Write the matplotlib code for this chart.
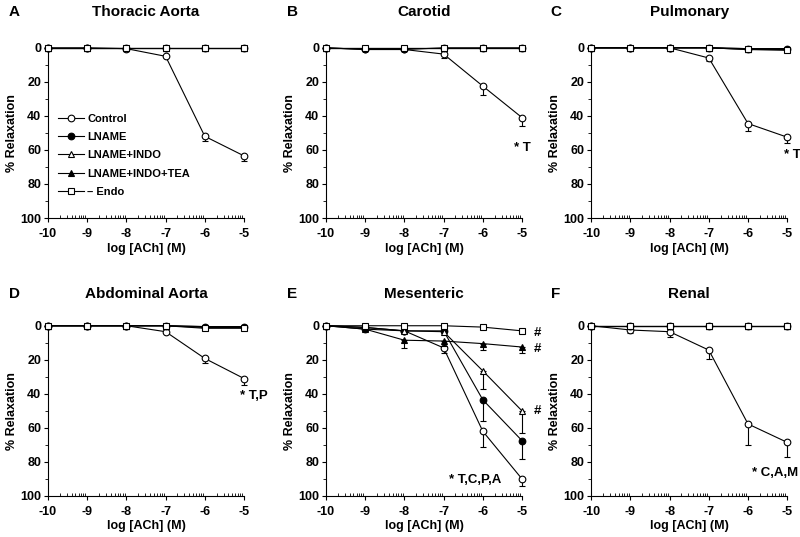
import numpy as np
import matplotlib.pyplot as plt

plt.rcParams['font.family'] = ['Liberation Sans', 'DejaVu Sans']
plt.rcParams['font.weight'] = 'bold'

x_log = [-10, -9, -8, -7, -6, -5]
series_names = ['Control', 'LNAME', 'LNAME+INDO', 'LNAME+INDO+TEA', '\u2013 Endo']
zeros = [0, 0, 0, 0, 0, 0]

# Thoracic Aorta
thoracic_control = [0, 0, 0.5, 5, 52, 63.5]
thoracic_control_err = [0, 0, 0, 0, 3, 3]

# Carotid
carotid_control = [0, 1, 1, 3.7, 22.5, 41]
carotid_control_err = [0, 0, 0, 2.5, 5, 5]
carotid_lname = [0, 1, 1, 0, 0, 0]

# Pulmonary
pulmonary_control = [0, 0, 0, 6, 44.5, 52.5]
pulmonary_control_err = [0, 0, 0, 1.5, 4.5, 3.5]
pulmonary_lname = [0, 0, 0, 0, 0.5, 0.5]
pulmonary_indo = [0, 0, 0, 0, 1, 1]
pulmonary_tea = [0, 0, 0, 0, 0.5, 0.5]
pulmonary_endo = [0, 0, 0, 0, 1, 1.5]

# Abdominal Aorta
abdominal_control = [0, 0, 0, 3.5, 19.2, 31]
abdominal_control_err = [0, 0, 0, 0, 2.8, 4]
abdominal_lname = [0, 0, 0, 0, 0.5, 0.5]
abdominal_indo = [0, 0, 0, 0, 1, 1]
abdominal_tea = [0, 0, 0, 0, 0.5, 0.5]
abdominal_endo = [0, 0, 0, 0, 1.5, 1.5]

# Mesenteric
mesenteric_control = [0, 1, 3, 13, 62, 90]
mesenteric_control_err = [0, 0, 0, 3, 9, 4]
mesenteric_lname = [0, 2, 3, 3, 43.5, 67.5]
mesenteric_lname_err = [0, 0, 0, 0, 12.5, 10.5]
mesenteric_indo = [0, 1, 3, 3.5, 26.5, 50]
mesenteric_indo_err = [0, 0, 0, 0, 10.5, 13]
mesenteric_tea = [0, 2, 8.5, 9, 10.5, 12.5]
mesenteric_tea_err = [0, 0, 4.5, 3, 3.5, 3.5]
mesenteric_endo = [0, 0, 0, 0, 0.8, 3]

# Renal
renal_control = [0, 2.5, 3.5, 14.3, 57.7, 68.5]
renal_control_err = [0, 1.5, 3.3, 5.5, 12.3, 8.5]

panels = [
    ('A', 'Thoracic Aorta',
     [thoracic_control, zeros, zeros, zeros, zeros],
     [thoracic_control_err, zeros, zeros, zeros, zeros]),
    ('B', 'Carotid',
     [carotid_control, carotid_lname, zeros, zeros, zeros],
     [carotid_control_err, zeros, zeros, zeros, zeros]),
    ('C', 'Pulmonary',
     [pulmonary_control, pulmonary_lname, pulmonary_indo, pulmonary_tea, pulmonary_endo],
     [pulmonary_control_err, zeros, zeros, zeros, zeros]),
    ('D', 'Abdominal Aorta',
     [abdominal_control, abdominal_lname, abdominal_indo, abdominal_tea, abdominal_endo],
     [abdominal_control_err, zeros, zeros, zeros, zeros]),
    ('E', 'Mesenteric',
     [mesenteric_control, mesenteric_lname, mesenteric_indo, mesenteric_tea, mesenteric_endo],
     [mesenteric_control_err, mesenteric_lname_err, mesenteric_indo_err, mesenteric_tea_err, zeros]),
    ('F', 'Renal',
     [renal_control, zeros, zeros, zeros, zeros],
     [renal_control_err, zeros, zeros, zeros, zeros]),
]

markers = ['o', 'o', '^', '^', 's']
faces = ['white', 'black', 'white', 'black', 'white']

fig = plt.figure(figsize=(8, 5.37), dpi=100)

lefts = [0.06, 0.4075, 0.739]
bottoms = [0.594, 0.0764]
letter_x = [0.018, 0.365, 0.695]
title_y = [0.978, 0.452]

minor_x = [d + np.log10(k) for d in range(-10, -5) for k in range(2, 10)]

axes = []
for i, (letter, title, ys, errs) in enumerate(panels):
    row, col = divmod(i, 3)
    ax = fig.add_axes([lefts[col], bottoms[row], 0.245, 0.317])
    axes.append(ax)
    for j in range(5):
        ax.errorbar(x_log, ys[j], yerr=[zeros, errs[j]], fmt='none', ecolor='black',
                    elinewidth=0.8, capsize=2, capthick=0.8, clip_on=False, zorder=2 + j)
        ax.plot(x_log, ys[j], color='black', lw=0.8, marker=markers[j], ms=4.8,
                mfc=faces[j], mec='black', mew=0.8, clip_on=False, zorder=3 + j,
                label=series_names[j])
    ax.set_xlim(-10, -5)
    ax.set_ylim(100, 0)
    ax.set_xticks(x_log)
    ax.set_xticklabels([str(v) for v in x_log])
    ax.set_xticks(minor_x, minor=True)
    ax.set_yticks([0, 20, 40, 60, 80, 100])
    ax.set_yticks([10, 30, 50, 70, 90], minor=True)
    ax.tick_params(axis='both', which='major', direction='out', length=3, width=0.8,
                   labelsize=9, pad=2)
    ax.tick_params(axis='x', which='major', pad=4)
    ax.tick_params(axis='x', which='minor', direction='in', length=2, width=0.6)
    ax.tick_params(axis='y', which='minor', direction='out', length=2, width=0.6)
    for lab in ax.get_xticklabels() + ax.get_yticklabels():
        lab.set_fontweight('bold')
    ax.spines['top'].set_visible(False)
    ax.spines['right'].set_visible(False)
    ax.spines['left'].set_linewidth(0.8)
    ax.spines['bottom'].set_linewidth(0.8)
    ax.set_xlabel('log [ACh] (M)', fontsize=9, fontweight='bold', labelpad=2)
    ax.set_ylabel('% Relaxation', fontsize=9, fontweight='bold')
    ax.yaxis.set_label_coords(-0.153, 0.5)
    pos = ax.get_position()
    fig.text(pos.x0 + pos.width / 2, title_y[row], title, fontsize=11,
             fontweight='bold', ha='center', va='center')
    fig.text(letter_x[col], title_y[row], letter, fontsize=11,
             fontweight='bold', ha='center', va='center')

axes[0].legend(loc='upper left', bbox_to_anchor=(0.03, 0.64), frameon=False,
               fontsize=8, handlelength=2.3, handletextpad=0.3, labelspacing=0.75,
               numpoints=1, borderaxespad=0)
for t in axes[0].get_legend().get_texts():
    t.set_fontweight('bold')

note_kw = dict(fontsize=9.5, fontweight='bold', ha='center', va='center', clip_on=False)
axes[1].text(-5.0, 59, '* T', **note_kw)
axes[2].text(-4.87, 63, '* T', **note_kw)
axes[3].text(-4.75, 41.5, '* T,P', **note_kw)
axes[4].text(-4.6, 4, '#', **note_kw)
axes[4].text(-4.6, 13.5, '#', **note_kw)
axes[4].text(-4.6, 50, '#', **note_kw)
axes[4].text(-6.2, 90.5, '* T,C,P,A', **note_kw)
note_kw['ha'] = 'right'
axes[5].text(-4.73, 86.5, '* C,A,M', **note_kw)

fig.savefig('out.png', dpi=100)
